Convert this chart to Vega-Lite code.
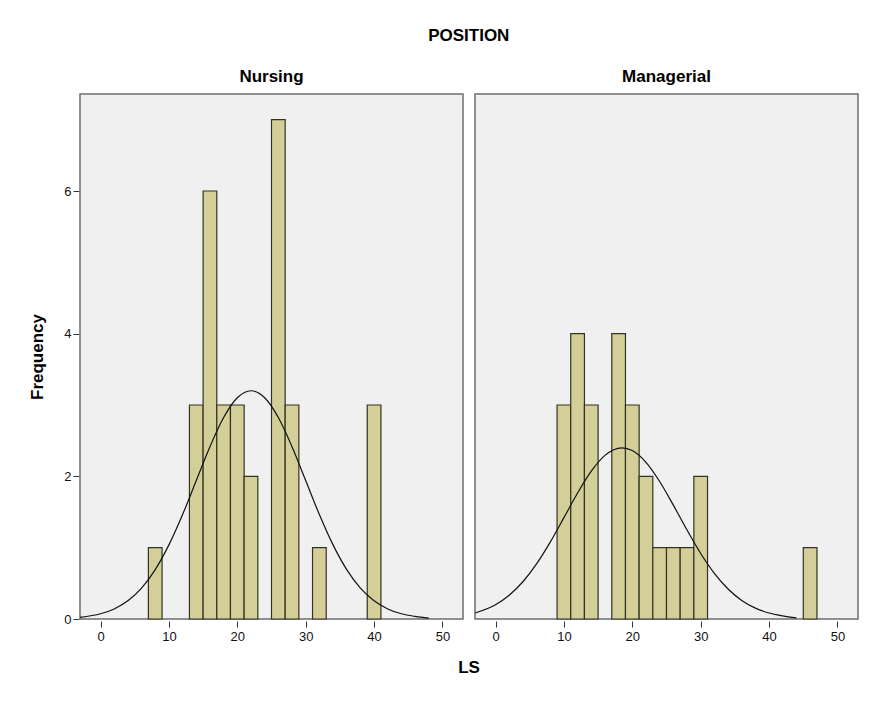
{
  "$schema": "https://vega.github.io/schema/vega-lite/v6.json",
  "padding": {"left": 28, "top": 27, "right": 23, "bottom": 20},
  "background": "white",
  "title": {"text": "POSITION", "fontSize": 17, "fontWeight": "bold", "font": "Liberation Sans", "color": "#000", "anchor": "middle", "offset": 23, "dx": 25},
  "data": {"values": [
    {"panel": "Nursing", "type": "bar", "x": 7, "x2": 9, "y": 1},
    {"panel": "Nursing", "type": "bar", "x": 13, "x2": 15, "y": 3},
    {"panel": "Nursing", "type": "bar", "x": 15, "x2": 17, "y": 6},
    {"panel": "Nursing", "type": "bar", "x": 17, "x2": 19, "y": 3},
    {"panel": "Nursing", "type": "bar", "x": 19, "x2": 21, "y": 3},
    {"panel": "Nursing", "type": "bar", "x": 21, "x2": 23, "y": 2},
    {"panel": "Nursing", "type": "bar", "x": 25, "x2": 27, "y": 7},
    {"panel": "Nursing", "type": "bar", "x": 27, "x2": 29, "y": 3},
    {"panel": "Nursing", "type": "bar", "x": 31, "x2": 33, "y": 1},
    {"panel": "Nursing", "type": "bar", "x": 39, "x2": 41, "y": 3},
    {"panel": "Managerial", "type": "bar", "x": 9, "x2": 11, "y": 3},
    {"panel": "Managerial", "type": "bar", "x": 11, "x2": 13, "y": 4},
    {"panel": "Managerial", "type": "bar", "x": 13, "x2": 15, "y": 3},
    {"panel": "Managerial", "type": "bar", "x": 17, "x2": 19, "y": 4},
    {"panel": "Managerial", "type": "bar", "x": 19, "x2": 21, "y": 3},
    {"panel": "Managerial", "type": "bar", "x": 21, "x2": 23, "y": 2},
    {"panel": "Managerial", "type": "bar", "x": 23, "x2": 25, "y": 1},
    {"panel": "Managerial", "type": "bar", "x": 25, "x2": 27, "y": 1},
    {"panel": "Managerial", "type": "bar", "x": 27, "x2": 29, "y": 1},
    {"panel": "Managerial", "type": "bar", "x": 29, "x2": 31, "y": 2},
    {"panel": "Managerial", "type": "bar", "x": 45, "x2": 47, "y": 1},
    {"panel": "Nursing", "type": "curve", "x": -3, "y": 0.024},
    {"panel": "Nursing", "type": "curve", "x": 0, "y": 0.073},
    {"panel": "Nursing", "type": "curve", "x": 2, "y": 0.141},
    {"panel": "Nursing", "type": "curve", "x": 4, "y": 0.255},
    {"panel": "Nursing", "type": "curve", "x": 6, "y": 0.433},
    {"panel": "Nursing", "type": "curve", "x": 8, "y": 0.692},
    {"panel": "Nursing", "type": "curve", "x": 10, "y": 1.039},
    {"panel": "Nursing", "type": "curve", "x": 12, "y": 1.465},
    {"panel": "Nursing", "type": "curve", "x": 14, "y": 1.941},
    {"panel": "Nursing", "type": "curve", "x": 16, "y": 2.415},
    {"panel": "Nursing", "type": "curve", "x": 18, "y": 2.824},
    {"panel": "Nursing", "type": "curve", "x": 20, "y": 3.101},
    {"panel": "Nursing", "type": "curve", "x": 22, "y": 3.2},
    {"panel": "Nursing", "type": "curve", "x": 24, "y": 3.101},
    {"panel": "Nursing", "type": "curve", "x": 26, "y": 2.824},
    {"panel": "Nursing", "type": "curve", "x": 28, "y": 2.415},
    {"panel": "Nursing", "type": "curve", "x": 30, "y": 1.941},
    {"panel": "Nursing", "type": "curve", "x": 32, "y": 1.465},
    {"panel": "Nursing", "type": "curve", "x": 34, "y": 1.039},
    {"panel": "Nursing", "type": "curve", "x": 36, "y": 0.692},
    {"panel": "Nursing", "type": "curve", "x": 38, "y": 0.433},
    {"panel": "Nursing", "type": "curve", "x": 40, "y": 0.255},
    {"panel": "Nursing", "type": "curve", "x": 42, "y": 0.141},
    {"panel": "Nursing", "type": "curve", "x": 44, "y": 0.073},
    {"panel": "Nursing", "type": "curve", "x": 46, "y": 0.036},
    {"panel": "Nursing", "type": "curve", "x": 48, "y": 0.012},
    {"panel": "Managerial", "type": "curve", "x": -3, "y": 0.084},
    {"panel": "Managerial", "type": "curve", "x": 0, "y": 0.2},
    {"panel": "Managerial", "type": "curve", "x": 2, "y": 0.333},
    {"panel": "Managerial", "type": "curve", "x": 4, "y": 0.522},
    {"panel": "Managerial", "type": "curve", "x": 6, "y": 0.772},
    {"panel": "Managerial", "type": "curve", "x": 8, "y": 1.078},
    {"panel": "Managerial", "type": "curve", "x": 10, "y": 1.421},
    {"panel": "Managerial", "type": "curve", "x": 12, "y": 1.766},
    {"panel": "Managerial", "type": "curve", "x": 14, "y": 2.072},
    {"panel": "Managerial", "type": "curve", "x": 16, "y": 2.294},
    {"panel": "Managerial", "type": "curve", "x": 18.5, "y": 2.4},
    {"panel": "Managerial", "type": "curve", "x": 20, "y": 2.361},
    {"panel": "Managerial", "type": "curve", "x": 22, "y": 2.196},
    {"panel": "Managerial", "type": "curve", "x": 24, "y": 1.927},
    {"panel": "Managerial", "type": "curve", "x": 26, "y": 1.596},
    {"panel": "Managerial", "type": "curve", "x": 28, "y": 1.247},
    {"panel": "Managerial", "type": "curve", "x": 30, "y": 0.919},
    {"panel": "Managerial", "type": "curve", "x": 32, "y": 0.64},
    {"panel": "Managerial", "type": "curve", "x": 34, "y": 0.42},
    {"panel": "Managerial", "type": "curve", "x": 36, "y": 0.26},
    {"panel": "Managerial", "type": "curve", "x": 38, "y": 0.152},
    {"panel": "Managerial", "type": "curve", "x": 40, "y": 0.084},
    {"panel": "Managerial", "type": "curve", "x": 42, "y": 0.044},
    {"panel": "Managerial", "type": "curve", "x": 44, "y": 0.015}
  ]},
  "facet": {
    "column": {
      "field": "panel", "type": "nominal", "sort": ["Nursing", "Managerial"],
      "header": {
        "title": "LS", "titleOrient": "bottom", "labelOrient": "top",
        "titleFont": "Liberation Sans", "titleFontSize": 17, "titleFontWeight": "bold", "titleColor": "#000", "titlePadding": 7,
        "labelFont": "Liberation Sans", "labelFontSize": 17, "labelFontWeight": "bold", "labelColor": "#000", "labelPadding": 7
      }
    }
  },
  "spacing": 10,
  "spec": {
    "width": 383,
    "height": 525,
    "layer": [
      {
        "transform": [{"filter": "datum.type === 'bar'"}],
        "mark": {"type": "rect", "fill": "#d4cf99", "stroke": "#333322", "strokeWidth": 1.2},
        "encoding": {
          "x": {"field": "x", "type": "quantitative", "scale": {"domain": [-3, 53], "nice": false, "zero": false},
                "axis": {"title": null, "values": [0, 10, 20, 30, 40, 50], "format": "d", "grid": false, "domain": false, "tickColor": "#333", "tickSize": 6, "labelFont": "Liberation Sans", "labelFontSize": 13, "labelColor": "#111", "labelPadding": 3}},
          "x2": {"field": "x2"},
          "y": {"field": "y", "type": "quantitative", "scale": {"domain": [0, 7.36], "nice": false},
                "axis": {"title": "Frequency", "values": [0, 2, 4, 6], "format": "d", "grid": false, "domain": false, "tickColor": "#333", "tickSize": 6, "labelFont": "Liberation Sans", "labelFontSize": 13, "labelColor": "#111", "labelPadding": 2, "titleFont": "Liberation Sans", "titleFontSize": 17, "titleFontWeight": "bold", "titleColor": "#000", "titlePadding": 17}},
          "y2": {"datum": 0}
        }
      },
      {
        "transform": [{"filter": "datum.type === 'curve'"}],
        "mark": {"type": "line", "color": "#111", "strokeWidth": 1.2, "interpolate": "monotone", "clip": true},
        "encoding": {
          "x": {"field": "x", "type": "quantitative"},
          "y": {"field": "y", "type": "quantitative"}
        }
      }
    ]
  },
  "config": {
    "view": {"fill": "#f0f0f0", "stroke": "#6e6e6e", "strokeWidth": 1.5}
  }
}
